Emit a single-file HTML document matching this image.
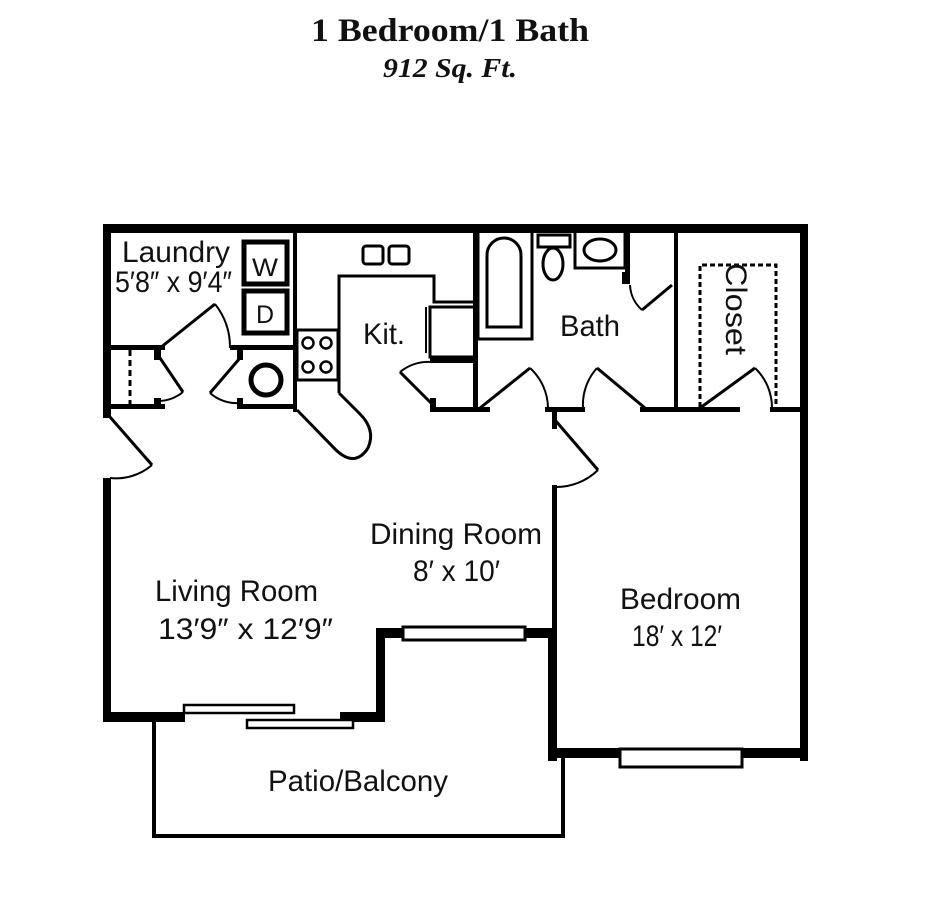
<!DOCTYPE html>
<html><head><meta charset="utf-8"><style>
html,body{margin:0;padding:0;background:#fff}
svg{display:block}
text{font-family:"Liberation Sans","DejaVu Sans",sans-serif;fill:#111}
</style></head><body>
<svg width="926" height="900" viewBox="0 0 926 900" xmlns="http://www.w3.org/2000/svg">
<text x="311" y="41" textLength="278" lengthAdjust="spacingAndGlyphs" style="font-family:'Liberation Serif',serif;font-weight:bold;font-size:33px">1 Bedroom/1 Bath</text>
<text x="383" y="77" textLength="134" lengthAdjust="spacingAndGlyphs" style="font-family:'Liberation Serif',serif;font-style:italic;font-weight:bold;font-size:27px">912 Sq. Ft.</text>

<g fill="#000">
<rect x="103" y="224" width="705" height="9"/>
<rect x="800" y="224" width="8" height="537"/>
<rect x="103" y="224" width="8" height="194"/>
<rect x="103" y="478" width="8" height="244"/>
<rect x="103" y="712" width="82" height="10"/>
<rect x="340" y="712" width="45" height="10"/>
<rect x="376" y="628" width="9" height="94"/>
<rect x="376" y="628" width="28" height="10"/>
<rect x="525" y="628" width="32" height="10"/>
<rect x="548" y="628" width="9" height="133"/>
<rect x="552" y="485" width="5" height="150"/>
<rect x="548" y="748" width="72" height="10"/>
<rect x="742" y="748" width="66" height="10"/>
<rect x="293" y="229" width="4" height="183"/>
<rect x="473" y="229" width="5" height="183"/>
<rect x="674" y="229" width="4" height="183"/>
<rect x="107" y="345" width="58" height="5"/>
<rect x="154" y="345" width="7" height="15"/>
<rect x="230" y="345" width="67" height="5"/>
<rect x="237" y="345" width="6" height="15"/>
<rect x="107" y="404" width="58" height="5"/>
<rect x="154" y="398" width="7" height="10"/>
<rect x="237" y="404" width="60" height="5"/>
<rect x="237" y="398" width="6" height="10"/>
<rect x="430" y="407" width="60" height="5"/>
<rect x="430" y="398" width="6" height="12"/>
<rect x="545" y="407" width="40" height="5"/>
<rect x="552" y="407" width="5" height="22"/>
<rect x="640" y="407" width="60" height="5"/>
<rect x="700" y="407" width="40" height="5"/>
<rect x="770" y="407" width="34" height="5"/>
<rect x="430" y="358" width="45" height="5"/>
<rect x="625" y="229" width="5" height="55"/>
<rect x="622" y="272" width="8" height="12"/>
</g>

<g fill="#fff" stroke="#000" stroke-width="3">
<rect x="403" y="627" width="122" height="13"/>
<rect x="620" y="749" width="122" height="18"/>
<rect x="184" y="705" width="110" height="8" stroke-width="2.5"/>
<rect x="247" y="720" width="106" height="8" stroke-width="2.5"/>
</g>

<g fill="none" stroke="#000">
<polyline points="154,722 154,836 563,836 563,758" stroke-width="4"/>
<rect x="244" y="242" width="43" height="42" stroke-width="5"/>
<rect x="244" y="291" width="43" height="42" stroke-width="5"/>
<circle cx="266" cy="380" r="15" stroke-width="5"/>
<line x1="130" y1="350" x2="130" y2="404" stroke-width="3" stroke-dasharray="6,4"/>
<g stroke-width="3">
<line x1="160" y1="348" x2="215" y2="304"/>
<path d="M215,304 A70,70 0 0 1 230,348" stroke-width="2"/>
<line x1="160" y1="358" x2="183" y2="392"/>
<path d="M183,392 A40,40 0 0 1 158,401" stroke-width="2"/>
<line x1="240" y1="358" x2="210" y2="393"/>
<path d="M210,393 A40,40 0 0 0 240,403" stroke-width="2"/>
<line x1="110" y1="417" x2="152" y2="465"/>
<path d="M152,465 A55,55 0 0 1 110,478" stroke-width="2"/>
<line x1="433" y1="405" x2="400" y2="372"/>
<path d="M400,372 A45,45 0 0 1 432,362" stroke-width="2"/>
<line x1="480" y1="408" x2="530" y2="368"/>
<path d="M530,368 A55,55 0 0 1 548,408" stroke-width="2"/>
<line x1="645" y1="408" x2="597" y2="368"/>
<path d="M597,368 A55,55 0 0 0 583,408" stroke-width="2"/>
<line x1="555" y1="420" x2="598" y2="470"/>
<path d="M598,470 A60,60 0 0 1 555,487" stroke-width="2"/>
<line x1="700" y1="408" x2="755" y2="368"/>
<path d="M755,368 A55,55 0 0 1 772,408" stroke-width="2"/>
<line x1="672" y1="285" x2="642" y2="310"/>
<path d="M642,310 A35,35 0 0 1 630,285" stroke-width="2"/>
</g>
<rect x="297" y="330" width="41" height="50" stroke-width="3"/>
<g stroke-width="2.5">
<circle cx="308" cy="343" r="5.5"/><circle cx="326" cy="343" r="5.5"/>
<circle cx="308" cy="367" r="5.5"/><circle cx="326" cy="367" r="5.5"/>
</g>
<polyline points="339,393 339,276 434,276 434,302 475,302" stroke-width="3"/>
<path d="M297,410 L336,450 Q355,468 368,448 Q376,430 360,414 L339,393" stroke-width="3"/>
<rect x="363" y="246" width="20" height="18" rx="3" stroke-width="3"/>
<rect x="389" y="246" width="20" height="18" rx="3" stroke-width="3"/>
<rect x="430" y="307" width="45" height="50" stroke-width="3"/>
<line x1="426" y1="307" x2="426" y2="353" stroke-width="2"/>
<rect x="478" y="231" width="54" height="108" stroke-width="3"/>
<path d="M487,327 L487,255 A17,17 0 0 1 521,255 L521,327 Z" stroke-width="3"/>
<rect x="538" y="235" width="32" height="12" stroke-width="3"/>
<ellipse cx="553" cy="264" rx="10" ry="16" stroke-width="3"/>
<rect x="575" y="231" width="50" height="37" stroke-width="3"/>
<ellipse cx="600" cy="250" rx="16" ry="11" stroke-width="3"/>
<polyline points="700,407 700,265 776,265 776,407" stroke-width="3" stroke-dasharray="5,3"/>
</g>

<g style="font-size:30px">
<text x="252" y="276" style="font-size:25px" textLength="26" lengthAdjust="spacingAndGlyphs">W</text>
<text x="256" y="323" style="font-size:25px">D</text>
<text x="122" y="262" textLength="108" lengthAdjust="spacingAndGlyphs">Laundry</text>
<text x="115" y="292" textLength="117" lengthAdjust="spacingAndGlyphs">5′8″ x 9′4″</text>
<text x="363" y="344" textLength="42" lengthAdjust="spacingAndGlyphs">Kit.</text>
<text x="560" y="336" textLength="60" lengthAdjust="spacingAndGlyphs">Bath</text>
<text transform="translate(726,263) rotate(90)" textLength="92" lengthAdjust="spacingAndGlyphs">Closet</text>
<text x="370" y="544" textLength="172" lengthAdjust="spacingAndGlyphs">Dining Room</text>
<text x="413" y="581" textLength="87" lengthAdjust="spacingAndGlyphs">8′ x 10′</text>
<text x="155" y="601" textLength="163" lengthAdjust="spacingAndGlyphs">Living Room</text>
<text x="158" y="639" textLength="175" lengthAdjust="spacingAndGlyphs">13′9″ x 12′9″</text>
<text x="620" y="609" textLength="121" lengthAdjust="spacingAndGlyphs">Bedroom</text>
<text x="632" y="646" textLength="90" lengthAdjust="spacingAndGlyphs">18′ x 12′</text>
<text x="268" y="791" textLength="180" lengthAdjust="spacingAndGlyphs">Patio/Balcony</text>
</g>
</svg>
</body></html>
